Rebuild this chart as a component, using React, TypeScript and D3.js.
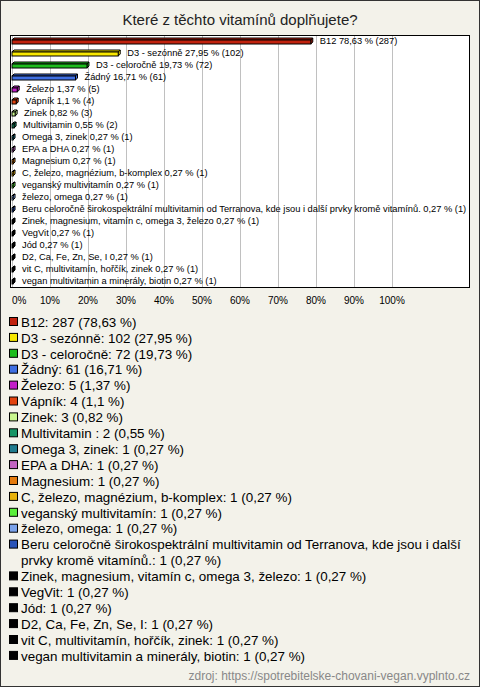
import React from "react";
import * as d3 from "d3";

const title = "Které z těchto vitamínů doplňujete?";
const source = "zdroj: https://spotrebitelske-chovani-vegan.vyplnto.cz";

const categories = [
  "B12",
  "D3 - sezónně",
  "D3 - celoročně",
  "Žádný",
  "Železo",
  "Vápník",
  "Zinek",
  "Multivitamin ",
  "Omega 3, zinek",
  "EPA a DHA",
  "Magnesium",
  "C, železo, magnézium, b-komplex",
  "veganský multivitamín",
  "železo, omega",
  "Beru celoročně širokospektrální multivitamin od Terranova, kde jsou i další prvky kromě vitamínů.",
  "Zinek, magnesium, vitamín c, omega 3, železo",
  "VegVit",
  "Jód",
  "D2, Ca, Fe, Zn, Se, I",
  "vit C, multivitamín, hořčík, zinek",
  "vegan multivitamin a minerály, biotin",
];

const counts = [287, 102, 72, 61, 5, 4, 3, 2, 1, 1, 1, 1, 1, 1, 1, 1, 1, 1, 1, 1, 1];

const percents = [
  78.63, 27.95, 19.73, 16.71, 1.37, 1.1, 0.82, 0.55, 0.27, 0.27, 0.27, 0.27, 0.27,
  0.27, 0.27, 0.27, 0.27, 0.27, 0.27, 0.27, 0.27,
];

const colors = [
  "#c1220e", "#f8e800", "#1cbc1c", "#3f6fe2", "#c21ec8", "#e2420e", "#c9f78e",
  "#179566", "#1f7b8e", "#c264c2", "#e47a0e", "#e8b20c", "#5aee3a", "#7aa2ea",
  "#2a54b8", "#000000", "#000000", "#000000", "#000000", "#000000", "#000000",
];

const xTicks = [0, 10, 20, 30, 40, 50, 60, 70, 80, 90, 100];

const W = 480;
const H = 687;
const FONT = "'Liberation Sans', Arial, sans-serif";

function fmt(p: number) {
  return String(p).replace(".", ",");
}

function measure(text: string, font: string) {
  const c = document.createElement("canvas");
  const ctx = c.getContext("2d")!;
  ctx.font = font;
  return ctx.measureText(text).width;
}

function wrap(text: string, maxW: number, font: string) {
  const words = text.split(" ");
  const lines: string[] = [];
  let cur = "";
  for (const w of words) {
    const t = cur ? cur + " " + w : w;
    if (cur && measure(t, font) > maxW) {
      lines.push(cur);
      cur = w;
    } else cur = t;
  }
  if (cur) lines.push(cur);
  return lines;
}

export default function App() {
  const plot = { left: 10, right: 470, top: 35, bottom: 287 };
  const x = d3.scaleLinear().domain([0, 100]).range([12, 392]);
  const y = d3
    .scaleBand<string>()
    .domain(categories.map((c, i) => String(i)))
    .range([plot.top, plot.bottom])
    .padding(0);

  const depth = 2;
  const fh = 4;

  const legendSize = 13.4;
  const legendFont = `${legendSize}px ${FONT}`;
  let lineIdx = 0;
  const legendItems = categories.map((c, i) => {
    const label = `${c}: ${counts[i]} (${fmt(percents[i])} %)`;
    const lines = wrap(label, 449, legendFont);
    const start = lineIdx;
    lineIdx += lines.length;
    return { lines, start, color: colors[i] };
  });
  const ly0 = 322;
  const lstep = 15.9;

  return (
    <svg
      width={W}
      height={H}
      style={{ position: "absolute", left: 0, top: 0, display: "block" }}
      fontFamily={FONT}
    >
      <rect x={0.5} y={0.5} width={W - 1} height={H - 1} fill="#f3f2ea" stroke="#333" />
      <text x={W / 2} y={25} textAnchor="middle" fontSize={15} fill="#222">
        {title}
      </text>
      <rect
        x={plot.left + 0.5}
        y={plot.top + 0.5}
        width={plot.right - plot.left - 1}
        height={plot.bottom - plot.top}
        fill="#fff"
        stroke="#000"
      />
      {xTicks.map((t) => (
        <line
          key={"g" + t}
          x1={Math.round(x(t)) + 0.5}
          x2={Math.round(x(t)) + 0.5}
          y1={plot.top + 1}
          y2={plot.bottom}
          stroke="#c0c0c0"
        />
      ))}
      {categories.map((c, i) => {
        const cy = y(String(i))! + y.bandwidth() / 2;
        const x0 = x(0);
        const x1 = x(percents[i]);
        const yf = cy - 1;
        const top = `${x0},${yf} ${x0 + depth},${yf - depth} ${x1 + depth},${yf - depth} ${x1},${yf}`;
        const side = `${x1},${yf} ${x1 + depth},${yf - depth} ${x1 + depth},${yf + fh - depth} ${x1},${yf + fh}`;
        return (
          <g key={"b" + i}>
            <polygon points={top} fill={colors[i]} stroke="#000" strokeWidth={1} strokeLinejoin="round" />
            <polygon points={side} fill={colors[i]} stroke="#000" strokeWidth={1} strokeLinejoin="round" />
            <rect x={x0} y={yf} width={x1 - x0} height={fh} fill={colors[i]} stroke="#000" strokeWidth={1} />
            <text x={x1 + 9} y={cy + 3.3} fontSize={9.3} fill="#000">
              {`${c} ${fmt(percents[i])} % (${counts[i]})`}
            </text>
          </g>
        );
      })}
      {xTicks.map((t, i) => (
        <text
          key={"t" + t}
          x={x(t)}
          y={304}
          fontSize={10}
          textAnchor={i === 0 ? "start" : "middle"}
          fill="#000"
        >
          {`${t}%`}
        </text>
      ))}
      {legendItems.map((it, i) => (
        <g key={"l" + i}>
          <rect
            x={9.5}
            y={ly0 + it.start * lstep - 4.5}
            width={8}
            height={8}
            fill={it.color}
            stroke="#000"
          />
          {it.lines.map((ln, j) => (
            <text
              key={j}
              x={21}
              y={ly0 + (it.start + j) * lstep + 4.7}
              fontSize={legendSize}
              fill="#000"
            >
              {ln}
            </text>
          ))}
        </g>
      ))}
      <text x={470} y={680} textAnchor="end" fontSize={12} fill="#888">
        {source}
      </text>
    </svg>
  );
}
